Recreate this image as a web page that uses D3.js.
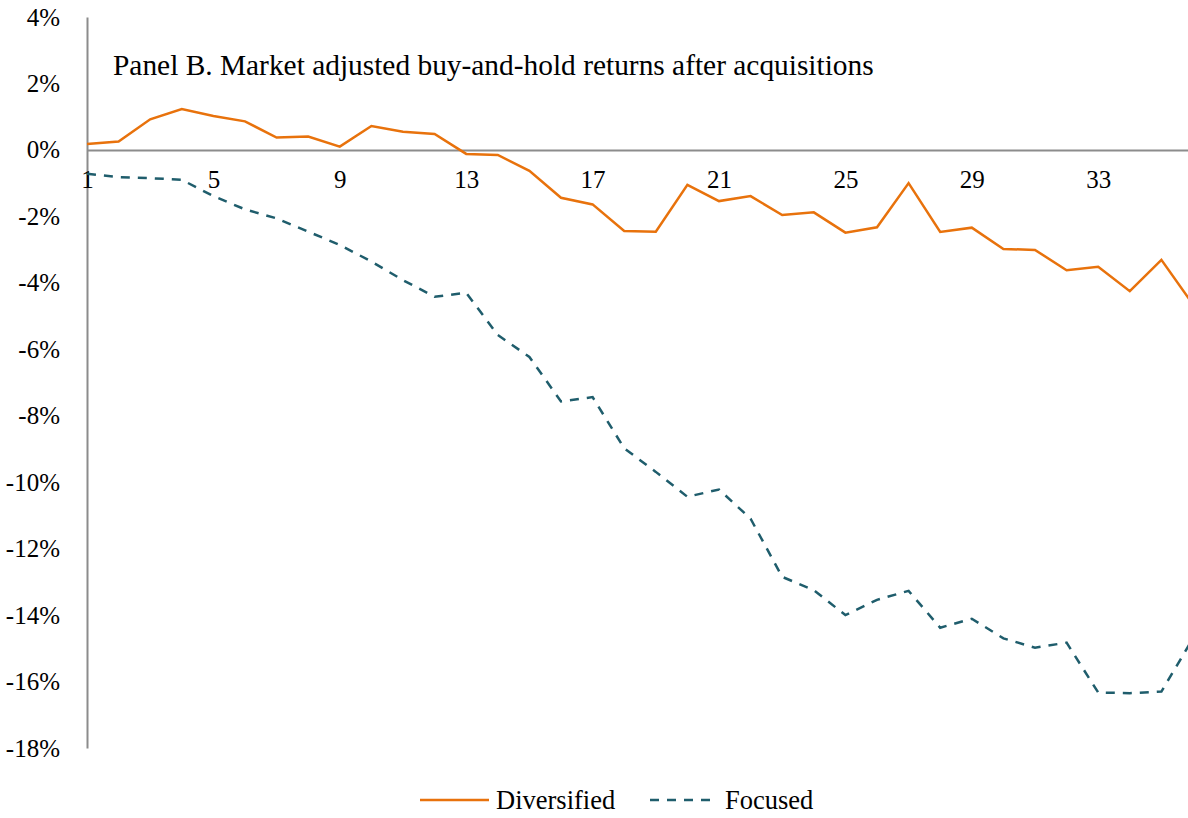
<!DOCTYPE html>
<html>
<head>
<meta charset="utf-8">
<script src="https://cdn.jsdelivr.net/npm/d3@7"></script>
<style>
  body { margin: 0; background: #fff; }
  svg text { font-family: "Liberation Serif", "Times New Roman", serif; fill: #000; }
</style>
</head>
<body>
<div id="canvas"></div>
<script>
// months after acquisition
const months = d3.range(1, 37);
const monthTicks = [1, 5, 9, 13, 17, 21, 25, 29, 33];
const pctTicks = [4, 2, 0, -2, -4, -6, -8, -10, -12, -14, -16, -18];

// market adjusted BHAR (%)
const diversified = [0.18, 0.25, 0.92, 1.23, 1.02, 0.86, 0.37, 0.40, 0.10, 0.72, 0.55, 0.48,
  -0.12, -0.15, -0.63, -1.44, -1.64, -2.44, -2.46, -1.05, -1.54, -1.39, -1.96, -1.88,
  -2.49, -2.33, -1.00, -2.47, -2.34, -2.98, -3.01, -3.62, -3.52, -4.25, -3.31, -4.65];
const focused = [-0.72, -0.82, -0.85, -0.90, -1.39, -1.79, -2.06, -2.46, -2.86, -3.36, -3.92, -4.42,
  -4.30, -5.57, -6.23, -7.57, -7.44, -8.98, -9.69, -10.44, -10.22, -11.10, -12.85, -13.25,
  -14.00, -13.54, -13.27, -14.38, -14.11, -14.70, -14.98, -14.83, -16.33, -16.35, -16.30, -14.70];

const width = 1188;
const height = 818;
const orange = "#E8720C";
const teal = "#1F5D6C";
const grey = "#8C8C8C";

const svg = d3.select("#canvas").append("svg")
  .attr("width", width)
  .attr("height", height);

const x = d3.scalePoint()
  .domain(months)
  .range([87, 1193]);

const y = d3.scaleLinear()
  .domain([-18, 4])
  .range([748, 17]);

// y axis
const yAxis = svg.append("g")
  .attr("transform", "translate(87,0)")
  .call(d3.axisLeft(y).tickValues(pctTicks).tickSize(0).tickPadding(27).tickFormat(d => d + "%"));
yAxis.select(".domain").attr("stroke", grey).attr("stroke-width", 2);
yAxis.selectAll("text").style("font-size", "25px");

// x axis on zero line
const xAxis = svg.append("g")
  .attr("transform", `translate(0,${y(0)})`)
  .call(d3.axisBottom(x).tickValues(monthTicks).tickSize(0).tickSizeOuter(0));
xAxis.select(".domain").attr("stroke", grey).attr("stroke-width", 2);
xAxis.selectAll("text")
  .style("font-size", "25px")
  .attr("y", 38)
  .attr("dy", 0);

const line = d3.line()
  .x((d, i) => x(months[i]))
  .y(d => y(d));

svg.append("path")
  .datum(focused)
  .attr("fill", "none")
  .attr("stroke", teal)
  .attr("stroke-width", 2.5)
  .attr("stroke-dasharray", "9,8")
  .attr("d", line);

svg.append("path")
  .datum(diversified)
  .attr("fill", "none")
  .attr("stroke", orange)
  .attr("stroke-width", 2.5)
  .attr("d", line);

// title
svg.append("text")
  .attr("x", 113)
  .attr("y", 75)
  .style("font-size", "29.4px")
  .text("Panel B. Market adjusted buy-and-hold returns after acquisitions");

// legend
const legend = svg.append("g").attr("transform", "translate(0,800)");
legend.append("line")
  .attr("x1", 420).attr("x2", 489).attr("y1", 0).attr("y2", 0)
  .attr("stroke", orange).attr("stroke-width", 2.5);
legend.append("text")
  .attr("x", 496).attr("y", 9)
  .style("font-size", "26.5px")
  .text("Diversified");
legend.append("line")
  .attr("x1", 650).attr("x2", 713).attr("y1", 0).attr("y2", 0)
  .attr("stroke", teal).attr("stroke-width", 2.5)
  .attr("stroke-dasharray", "9,8");
legend.append("text")
  .attr("x", 725).attr("y", 9)
  .style("font-size", "26.5px")
  .text("Focused");
</script>
</body>
</html>
